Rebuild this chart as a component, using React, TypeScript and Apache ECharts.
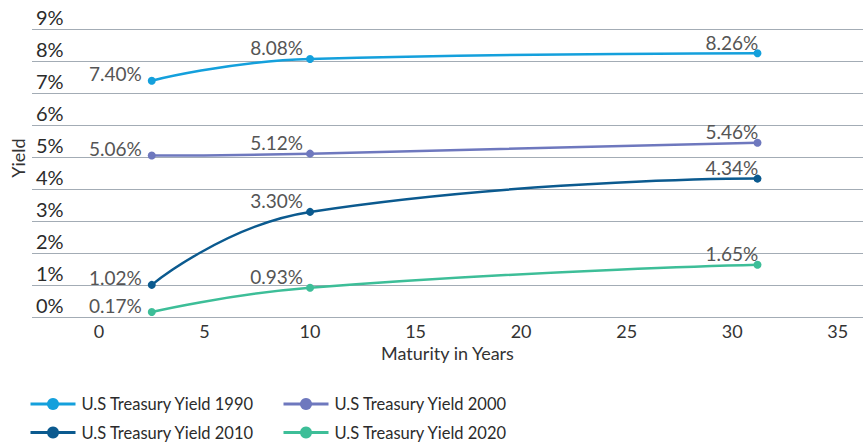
import React, { useEffect, useRef } from "react";
import * as echarts from "echarts";

const maturities = [2.5, 10, 31.2];
const yields1990 = [7.4, 8.08, 8.26];
const yields2000 = [5.06, 5.12, 5.46];
const yields2010 = [1.02, 3.3, 4.34];
const yields2020 = [0.17, 0.93, 1.65];
const seriesNames = [
  "U.S Treasury Yield 1990",
  "U.S Treasury Yield 2000",
  "U.S Treasury Yield 2010",
  "U.S Treasury Yield 2020",
];
const seriesColors = ["#14a0dc", "#6e78be", "#0b5a8f", "#3dbe98"];
const xTicks = [0, 5, 10, 15, 20, 25, 30, 35];

const FONT = "Lato";

const labelPositions: any[] = [
  { position: [-6, -3], align: "right" },
  { position: [-3, -7], align: "right" },
  { position: [-48, -7], align: "left" },
];

function buildData(values: number[]) {
  return values.map((v, i) => ({
    value: [maturities[i], v],
    label: {
      show: true,
      formatter: v.toFixed(2) + "%",
      position: labelPositions[i].position,
      align: labelPositions[i].align,
      verticalAlign: "middle",
      fontSize: 19,
      fontFamily: FONT,
      color: "#555555",
    },
  }));
}

export default function App() {
  const ref = useRef<HTMLDivElement>(null);
  useEffect(() => {
    document.body.style.margin = "0";
    const chart = echarts.init(ref.current!, undefined, { renderer: "svg" });
    const allValues = [yields1990, yields2000, yields2010, yields2020];
    const legendText = { fontSize: 16.5, lineHeight: 20, color: "#2b2b2b", fontFamily: FONT, padding: [0, 0, 0, 1] };
    chart.setOption({
      animation: false,
      textStyle: { fontFamily: FONT },
      grid: { left: 32, right: 4, top: 29.5, bottom: 126.5, containLabel: false },
      xAxis: {
        type: "value",
        min: -3.175,
        max: 36.2,
        name: "Maturity in Years",
        nameLocation: "middle",
        nameGap: 26,
        nameTextStyle: { fontSize: 18, color: "#333333", fontFamily: FONT },
        axisLine: { show: false },
        axisTick: { show: false },
        splitLine: { show: false },
        axisLabel: {
          customValues: xTicks,
          fontSize: 18,
          color: "#333333",
          margin: 4,
          fontFamily: FONT,
        },
      },
      yAxis: {
        type: "value",
        min: 0,
        max: 9,
        interval: 1,
        axisLine: { show: false },
        axisTick: { show: false },
        splitLine: { lineStyle: { color: "#a3acb5", width: 1 } },
        axisLabel: {
          inside: true,
          margin: 4,
          align: "left",
          verticalAlign: "bottom",
          fontSize: 20,
          color: "#2b2b2b",
          fontFamily: FONT,
          padding: [0, 0, 3, 0],
          formatter: (v: number) => v + "%",
        },
      },
      graphic: [
        {
          type: "text",
          x: 18,
          y: 158,
          rotation: Math.PI / 2,
          style: {
            text: "Yield",
            align: "center",
            verticalAlign: "middle",
            fontSize: 18,
            fontFamily: FONT,
            fill: "#333333",
          },
        },
      ],
      legend: [
        {
          data: [seriesNames[0], seriesNames[2]],
          orient: "vertical",
          left: 29,
          top: 394,
          padding: 0,
          itemWidth: 45,
          itemHeight: 15,
          itemGap: 8.5,
          lineStyle: { width: 3 },
          textStyle: legendText,
        },
        {
          data: [seriesNames[1], seriesNames[3]],
          orient: "vertical",
          left: 282,
          top: 394,
          padding: 0,
          itemWidth: 45,
          itemHeight: 15,
          itemGap: 8.5,
          lineStyle: { width: 3 },
          textStyle: legendText,
        },
      ],
      series: allValues.map((vals, i) => ({
        name: seriesNames[i],
        type: "line",
        smooth: true,
        symbol: "circle",
        symbolSize: 8,
        color: seriesColors[i],
        lineStyle: { width: 2.5, color: seriesColors[i] },
        itemStyle: { color: seriesColors[i] },
        data: buildData(vals),
      })),
    });
    return () => chart.dispose();
  }, []);
  return <div ref={ref} style={{ width: 867, height: 444 }} />;
}
